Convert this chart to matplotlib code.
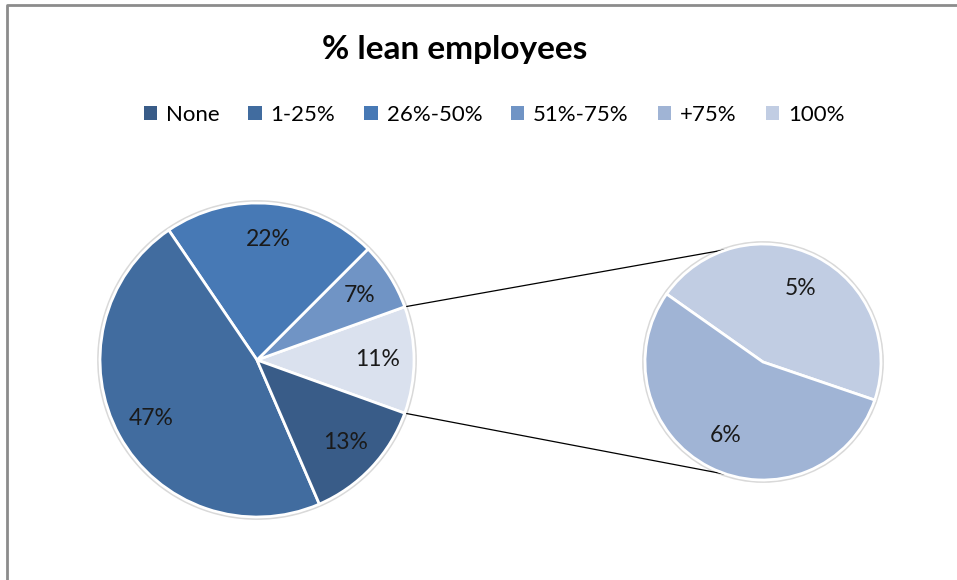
import numpy as np
import matplotlib
matplotlib.use("Agg")
import matplotlib.pyplot as plt
from matplotlib.patches import Patch, Circle

plt.rcParams['font.family'] = ['Lato', 'DejaVu Sans']

title = "% lean employees"
categories = ["None", "1-25%", "26%-50%", "51%-75%", "+75%", "100%"]
values = [13, 47, 22, 7, 6, 5]
colors = ["#395C88", "#416C9F", "#4779B5", "#7094C5", "#A0B4D5", "#C1CDE3"]
other_color = "#DAE1EE"
n_main = 4  # first four categories stay in the main pie

W, H = 957, 580
fig = plt.figure(figsize=(W / 100, H / 100), dpi=100)
ax = fig.add_axes([0, 0, 1, 1])
ax.set_xlim(0, W)
ax.set_ylim(0, H)
ax.set_aspect('equal')
ax.axis('off')

main_c, main_r = (257, 220), 157
sec_c, sec_r = (763, 218), 118

other = sum(values[n_main:])
main_vals = [other] + values[:n_main][::-1]
main_cols = [other_color] + colors[:n_main][::-1]
main_labels = [f"{v}%" for v in main_vals]
start = -other / 100 * 360 / 2

for c, r in ((main_c, main_r), (sec_c, sec_r)):
    ax.add_patch(Circle(c, r + 1.5, facecolor='none', edgecolor='#D9D9D9', lw=2, zorder=0))

wedges, texts = ax.pie(main_vals, colors=main_cols, startangle=start, counterclock=True,
                       center=main_c, radius=main_r, labels=main_labels, labeldistance=0.77,
                       wedgeprops=dict(edgecolor='white', linewidth=2),
                       textprops=dict(fontsize=16.5, color='#1a1a1a', ha='center', va='center'))

sec_vals = values[n_main:][::-1]
sec_cols = colors[n_main:][::-1]
sec_frac = sec_vals[0] / sum(sec_vals) * 360
sec_start = 63 - sec_frac / 2
w2, t2 = ax.pie(sec_vals, colors=sec_cols, startangle=sec_start, counterclock=True,
                center=sec_c, radius=sec_r, labels=[f"{v}%" for v in sec_vals],
                labeldistance=0.7,
                wedgeprops=dict(edgecolor='white', linewidth=2),
                textprops=dict(fontsize=16.5, color='#1a1a1a', ha='center', va='center'))

ax.set_xlim(0, W)
ax.set_ylim(0, H)

# connector lines between the "other" wedge and the secondary pie
for a_main, a_sec in ((start + other / 100 * 360, 107), (start, -107)):
    p0 = (main_c[0] + main_r * np.cos(np.radians(a_main)), main_c[1] + main_r * np.sin(np.radians(a_main)))
    p1 = (sec_c[0] + sec_r * np.cos(np.radians(a_sec)), sec_c[1] + sec_r * np.sin(np.radians(a_sec)))
    ax.plot([p0[0], p1[0]], [p0[1], p1[1]], color='black', lw=0.9, zorder=0.5)

ax.text(455, H - 50, title, ha='center', va='center', fontsize=24, fontweight='bold', color='black')

handles = [Patch(facecolor=c, edgecolor='none') for c in colors]
fig.legend(handles, categories, loc='center', bbox_to_anchor=(494 / W, 1 - 115 / H), ncol=6,
           frameon=False, fontsize=16, handlelength=0.6, handleheight=0.6,
           handletextpad=0.4, columnspacing=1.3)

# chart frame
ax.plot([7, 7, W], [0, H - 5, H - 5], color='#8C8C8C', lw=2, solid_capstyle='butt')

fig.savefig("out.png", dpi=100, facecolor='white')
